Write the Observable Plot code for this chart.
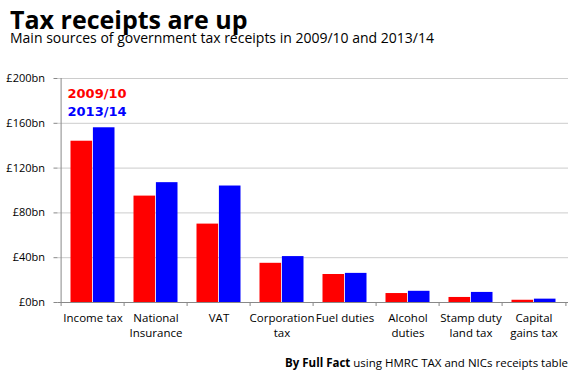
<!DOCTYPE html>
<html><head><meta charset="utf-8">
<script src="https://cdn.jsdelivr.net/npm/d3@7"></script>
<script src="https://cdn.jsdelivr.net/npm/@observablehq/plot@0.6"></script>
<style>
body{margin:0;background:#fff;font-family:"Open Sans",sans-serif;color:#000;width:588px;height:378px;overflow:hidden}
#head{height:60px;position:relative}
#title{position:absolute;left:10px;top:8px;font-size:25px;font-weight:700;line-height:22px;white-space:nowrap}
#subtitle{position:absolute;left:10px;top:30.5px;font-size:14px;line-height:13px;white-space:nowrap}
#chart{height:285px}
#chart svg{display:block}
#caption{text-align:right;padding-right:20px;font-size:11.5px;line-height:18px;margin-top:9px;white-space:nowrap}
</style></head>
<body>
<div id="head"><div id="title">Tax receipts are up</div><div id="subtitle">Main sources of government tax receipts in 2009/10 and 2013/14</div></div>
<div id="chart"></div>
<div id="caption"><b>By Full Fact</b> using HMRC TAX and NICs receipts table</div>
<script>
const categories = ["Income tax", "National\nInsurance", "VAT", "Corporation\ntax", "Fuel duties", "Alcohol\nduties", "Stamp duty\nland tax", "Capital\ngains tax"];
const years = ["2009/10", "2013/14"];
const receipts200910 = [144, 95, 70, 35, 25, 8, 4.5, 2];
const receipts201314 = [156, 107, 104, 41, 26, 10, 9, 3];
const yTicks = [0, 40, 80, 120, 160, 200];
const colors = ["#ff0000", "#0000ff"];

const data = categories.flatMap((c, i) => [
  {category: c, year: years[0], value: receipts200910[i]},
  {category: c, year: years[1], value: receipts201314[i]}
]);

const W = 588, ML = 57.5, MR = 20;
const bw = (W - ML - MR) / categories.length;
const gap = 9.5;

const chart = Plot.plot({
  width: W, height: 285,
  marginTop: 18, marginLeft: ML, marginRight: MR, marginBottom: 43,
  style: {fontFamily: "Open Sans", color: "#000", background: "#fff"},
  x: {domain: categories, padding: 0},
  y: {domain: [0, 200]},
  marks: [
    Plot.gridY({ticks: yTicks, stroke: "#cccccc", strokeOpacity: 1}),
    Plot.barY(data.filter(d => d.year === years[0]), {x: "category", y: "value", fill: colors[0], insetLeft: gap, insetRight: bw / 2}),
    Plot.barY(data.filter(d => d.year === years[1]), {x: "category", y: "value", fill: colors[1], insetLeft: bw / 2, insetRight: gap}),
    Plot.ruleY([0], {stroke: "#888"}),
    Plot.ruleX([categories[0]], {x: d => d, y1: 0, y2: 200, dx: -bw / 2, stroke: "#888"}),
    Plot.axisY({ticks: yTicks, tickFormat: d => `£${d}bn`, tickSize: 4, tickPadding: 9, stroke: "#888", fontSize: 11, label: null}),
    Plot.axisX({tickSize: 4, tickFormat: () => "", dx: -bw / 2, stroke: "#888", label: null}),
    Plot.axisX({ticks: [categories[categories.length - 1]], tickSize: 4, tickFormat: () => "", dx: bw / 2, stroke: "#888", label: null}),
    Plot.axisX({tickSize: 0, tickPadding: 9, fontSize: 11.5, lineHeight: 1.3, label: null}),
    Plot.text([years[0]], {text: d => d, frameAnchor: "top-left", dx: gap, dy: 15, lineAnchor: "middle", fill: colors[0], fontWeight: "bold", fontSize: 13, fontFamily: "DejaVu Sans"}),
    Plot.text([years[1]], {text: d => d, frameAnchor: "top-left", dx: gap, dy: 33, lineAnchor: "middle", fill: colors[1], fontWeight: "bold", fontSize: 13, fontFamily: "DejaVu Sans"})
  ]
});
document.getElementById("chart").append(chart);
</script>
</body></html>
